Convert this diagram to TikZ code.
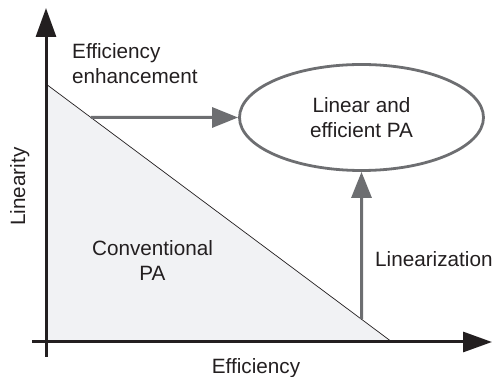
\documentclass[tikz,border=0pt]{standalone}
\usepackage{fontspec}
\setmainfont{Liberation Sans}
\usepackage{xcolor}
\usepackage{tikz}
\usetikzlibrary{arrows.meta,calc,shapes.geometric}
\definecolor{inkblack}{HTML}{231F20}
\definecolor{arrowgrey}{HTML}{6D6E71}
\definecolor{regiongrey}{HTML}{F1F2F4}
\tikzset{
  axis/.style       = {draw=inkblack, line width=3pt,
                       -{Triangle[length=29pt,width=20pt]}},
  move/.style       = {draw=arrowgrey, line width=3pt,
                       -{Triangle[length=26pt,width=20pt]}},
  tag/.style        = {inner sep=0pt, text=inkblack,
                       font=\fontsize{20.7}{25}\selectfont},
  goal/.style       = {tag, ellipse, draw=arrowgrey, line width=2.8pt,
                       minimum width=244pt, minimum height=106pt, align=center},
}

\begin{document}
\begin{tikzpicture}[x=1pt,y=1pt]
      \useasboundingbox (0,0) rectangle (495,377);
      % operating region of a conventional amplifier
      \coordinate (origin) at (46,35);
      \coordinate (peak) at (46,293);
      \coordinate (foot) at (392,35);
      \fill[regiongrey] (origin) -- (peak) -- (foot) -- cycle;
      \draw[inkblack, line width=0.7pt] (peak) -- (foot);
      % axes
      \coordinate (xstart) at (32,35);
      \coordinate (xend) at (492,35);
      \coordinate (ystart) at (46,20);
      \coordinate (yend) at (46,369);
      \draw[axis] (xstart) -- (xend);
      \draw[axis] (ystart) -- (yend);
      \node[tag, anchor=base] (xlabel) at (256,3) {Efficiency};
      \node[tag, anchor=base west, rotate=90] (ylabel) at (25,151) {Linearity};
      % target and the two ways to reach it
      \node[goal] (target) at (361.5,259.5) {Linear and\\efficient PA};
      \coordinate (boost) at (intersection of peak--foot and target.west--target.east);
      \coordinate (lift) at (intersection of peak--foot and target.south--target.north);
      \draw[move] (boost) -- (target.west);
      \draw[move] (lift) -- (target.south);
      \node[tag, anchor=north west, align=left] (boostlabel) at (72,334)
        {Efficiency\\enhancement};
      \node[tag, anchor=base west] (liftlabel) at (375,110) {Linearization};
      \node[tag, anchor=north, align=center] (regionlabel) at (152.5,136.5)
        {Conventional\\PA};
    \end{tikzpicture}
\end{document}
